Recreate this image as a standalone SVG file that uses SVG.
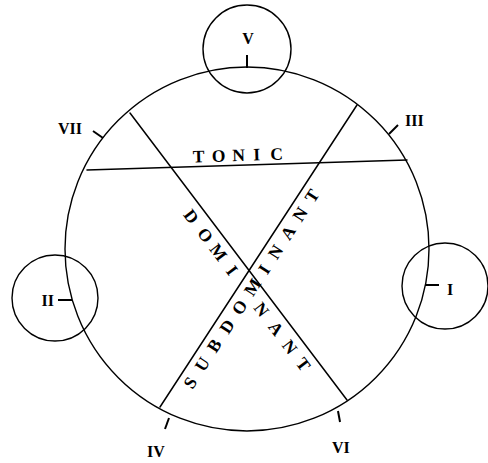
<svg xmlns="http://www.w3.org/2000/svg" width="488" height="463" viewBox="0 0 488 463">
<style>
.ln{fill:none;stroke:#000;stroke-width:1.5;stroke-linecap:round}
.circ{fill:none;stroke:#000;stroke-width:1.4}
.tick{stroke:#000;stroke-width:2;stroke-linecap:butt}
.lab{font-family:"Liberation Serif","DejaVu Serif",serif;font-size:16px;font-weight:bold;fill:#000}
.word{font-family:"Liberation Serif","DejaVu Serif",serif;font-size:17.5px;font-weight:bold;fill:#000;text-anchor:middle}
</style>
<rect width="488" height="463" fill="#fff"/>
<g id="main-circle"><circle class="circ" cx="247" cy="249" r="182"/></g>
<g id="node-V"><circle class="circ" cx="247" cy="49" r="44"/><line class="tick" x1="247" y1="55" x2="247" y2="68"/><text class="lab" x="248" y="44" text-anchor="middle">V</text></g>
<g id="node-II"><circle class="circ" cx="55" cy="298" r="43"/><line class="tick" x1="58" y1="300" x2="72" y2="300"/><text class="lab" x="54" y="306" text-anchor="end">II</text></g>
<g id="node-I"><circle class="circ" cx="445" cy="286" r="43"/><line class="tick" x1="425" y1="285" x2="439" y2="285"/><text class="lab" x="447" y="295">I</text></g>
<g id="node-VII"><line class="tick" x1="103" y1="138" x2="93" y2="131"/><text class="lab" x="82" y="134" text-anchor="end">VII</text></g>
<g id="node-III"><line class="tick" x1="389" y1="134" x2="398" y2="125"/><text class="lab" x="405" y="126">III</text></g>
<g id="node-IV"><line class="tick" x1="169" y1="418" x2="165" y2="429"/><text class="lab" x="147" y="457">IV</text></g>
<g id="node-VI"><line class="tick" x1="338" y1="411" x2="340" y2="422"/><text class="lab" x="332" y="453">VI</text></g>
<g id="connectors">
<line class="ln" x1="87" y1="170" x2="407" y2="160"/>
<line class="ln" x1="130" y1="113" x2="347" y2="400"/>
<line class="ln" x1="357" y1="105" x2="160" y2="407"/>
</g>
<g id="labels">
<text class="word" transform="rotate(-1.8 240 165)" x="199 219 239 257 277" y="161">TONIC</text>
<text class="word" transform="translate(130,113) rotate(52.9)" x="119.6 142.8 164.5 187" y="19.5">DOMI</text>
<text class="word" transform="translate(130,113) rotate(52.9)" x="236 260 283 305" y="19.5">NANT</text>
<text class="word" transform="translate(160,407) rotate(-56.9)" x="37 59 81 104 127 151 172 193 216 238 260" y="18">SUBDOMINANT</text>
</g>
</svg>
